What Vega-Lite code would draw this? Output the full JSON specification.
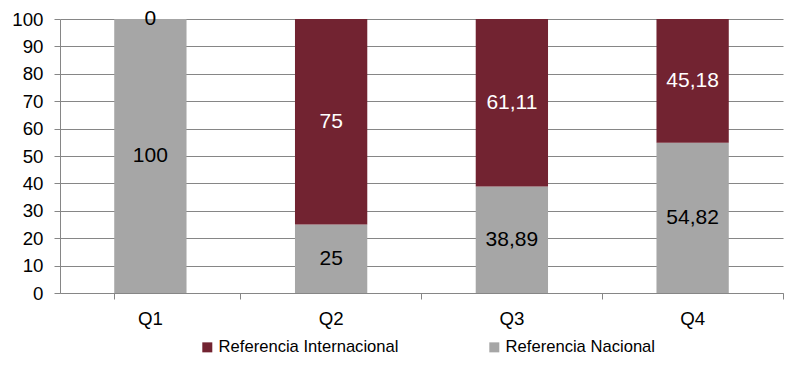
{
  "$schema": "https://vega.github.io/schema/vega-lite/v6.json",
  "width": 723,
  "height": 274,
  "autosize": {"type": "none"},
  "padding": {"left": 60, "top": 19, "right": 15, "bottom": 75},
  "background": "white",
  "config": {
    "font": "Liberation Sans",
    "view": {"stroke": null},
    "locale": {"number": {"decimal": ",", "thousands": ".", "grouping": [3], "currency": ["", " €"]}}
  },
  "data": {
    "values": [
      {"trimestre": "Q1", "serie": "Referencia Nacional", "valor": 100},
      {"trimestre": "Q1", "serie": "Referencia Internacional", "valor": 0},
      {"trimestre": "Q2", "serie": "Referencia Nacional", "valor": 25},
      {"trimestre": "Q2", "serie": "Referencia Internacional", "valor": 75},
      {"trimestre": "Q3", "serie": "Referencia Nacional", "valor": 38.89},
      {"trimestre": "Q3", "serie": "Referencia Internacional", "valor": 61.11},
      {"trimestre": "Q4", "serie": "Referencia Nacional", "valor": 54.82},
      {"trimestre": "Q4", "serie": "Referencia Internacional", "valor": 45.18}
    ]
  },
  "transform": [
    {"stack": "valor", "groupby": ["trimestre"], "sort": [{"field": "serie", "order": "descending"}], "as": ["v0", "v1"]},
    {"calculate": "(datum.v0 + datum.v1) / 2", "as": "vmid"}
  ],
  "resolve": {"axis": {"y": "independent"}},
  "encoding": {
    "x": {
      "field": "trimestre",
      "type": "nominal",
      "scale": {"paddingInner": 0.6, "paddingOuter": 0.3},
      "axis": {
        "title": null,
        "labelAngle": 0,
        "labelFontSize": 18.7,
        "labelColor": "black",
        "labelPadding": 10,
        "domainColor": "#868686",
        "tickColor": "#868686",
        "tickSize": 6,
        "bandPosition": 1.75,
        "tickExtra": true
      }
    }
  },
  "layer": [
    {
      "mark": {"type": "bar"},
      "encoding": {
        "y": {
          "field": "v0",
          "type": "quantitative",
          "scale": {"domain": [0, 100], "nice": false},
          "axis": {
            "title": null,
            "values": [0, 10, 20, 30, 40, 50, 60, 70, 80, 90, 100],
            "labelOverlap": false,
            "labelFontSize": 18.7,
            "labelColor": "black",
            "labelPadding": 11,
            "grid": true,
            "gridColor": "#868686",
            "domainColor": "#868686",
            "tickColor": "#868686",
            "tickSize": 6
          }
        },
        "y2": {"field": "v1"},
        "color": {
          "field": "serie",
          "type": "nominal",
          "scale": {"domain": ["Referencia Internacional", "Referencia Nacional"], "range": ["#722331", "#A6A6A6"]},
          "legend": {
            "title": null,
            "orient": "none",
            "direction": "horizontal",
            "legendX": 139,
            "legendY": 320,
            "symbolType": "square",
            "symbolSize": 100,
            "symbolStrokeWidth": 0,
            "labelFontSize": 16.6,
            "labelLimit": 400,
            "labelColor": "black",
            "labelOffset": 3,
            "columnPadding": 87
          }
        }
      }
    },
    {
      "transform": [{"filter": "datum.serie === 'Referencia Nacional'"}],
      "mark": {"type": "text", "fontSize": 21, "color": "black", "baseline": "middle"},
      "encoding": {
        "y": {"field": "vmid", "type": "quantitative", "axis": null},
        "text": {"field": "valor", "type": "quantitative", "format": "~g"}
      }
    },
    {
      "transform": [{"filter": "datum.serie === 'Referencia Internacional'"}],
      "mark": {"type": "text", "fontSize": 21, "baseline": "middle"},
      "encoding": {
        "y": {"field": "vmid", "type": "quantitative", "axis": null},
        "text": {"field": "valor", "type": "quantitative", "format": "~g"},
        "color": {"condition": {"test": "datum.valor > 0", "value": "white"}, "value": "black"}
      }
    }
  ]
}
